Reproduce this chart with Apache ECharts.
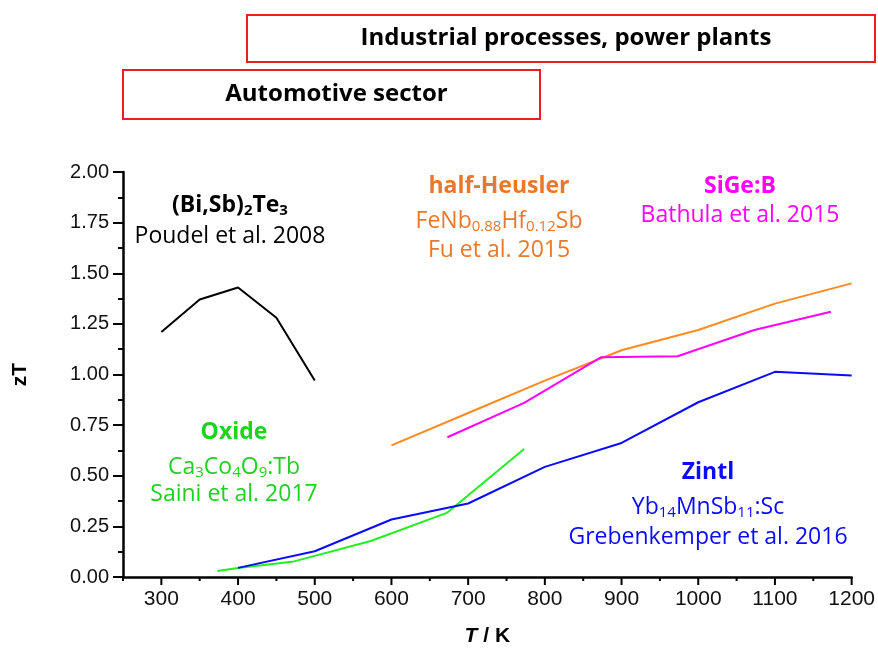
<!DOCTYPE html>
<html>

<head>
    <meta charset="UTF-8">
    <title>zT vs T</title>
    <script src="https://cdn.jsdelivr.net/npm/echarts@6.0.0/dist/echarts.min.js"></script>
    <style>
        html, body { margin: 0; padding: 0; background: #fff; }
    </style>
</head>

<body>
    <div id="main" style="width: 878px; height: 652px;"></div>
    <script>
        // data
        const bisbteT = [300, 350, 400, 450, 500];
        const bisbteZT = [1.21, 1.37, 1.43, 1.28, 0.97];

        const heuslerT = [600, 700, 800, 900, 1000, 1100, 1200];
        const heuslerZT = [0.65, 0.81, 0.97, 1.12, 1.22, 1.35, 1.45];

        const sigeT = [673, 773, 873, 973, 1073, 1173];
        const sigeZT = [0.69, 0.86, 1.085, 1.09, 1.22, 1.31];

        const oxideT = [373, 400, 473, 573, 673, 773];
        const oxideZT = [0.03, 0.045, 0.077, 0.178, 0.318, 0.632];

        const zintlT = [400, 500, 600, 700, 800, 900, 1000, 1100, 1200];
        const zintlZT = [0.045, 0.127, 0.284, 0.363, 0.544, 0.662, 0.863, 1.013, 0.995];

        const pairs = (xs, ys) => xs.map((x, i) => [x, ys[i]]);

        const textFont = '"Open Sans", Lato, sans-serif';
        const axisFont = '"Liberation Sans", Arial, sans-serif';

        // rich styles used for sub-scripted chemical formulas
        function richFor(color) {
            return {
                n: { fontFamily: textFont, fontSize: 23, color: color },
                s: { fontFamily: textFont, fontSize: 15, color: color, padding: [12, 0, 0, 0] },
                b: { fontFamily: textFont, fontSize: 23, color: color, fontWeight: 'bold' },
                bs: { fontFamily: textFont, fontSize: 15, color: color, fontWeight: 'bold', padding: [12, 0, 0, 0] }
            };
        }

        function label(x, y, text, color) {
            return {
                type: 'text',
                x: x,
                y: y,
                style: {
                    text: text,
                    rich: richFor(color),
                    fill: color,
                    align: 'center',
                    verticalAlign: 'middle'
                }
            };
        }

        function box(x, y, w, h, text) {
            return [
                {
                    type: 'rect',
                    shape: { x: x, y: y, width: w, height: h },
                    style: { fill: '#fff', stroke: '#ee1c24', lineWidth: 2 }
                },
                {
                    type: 'text',
                    x: x + w / 2 + 5,
                    y: y + h / 2,
                    style: {
                        text: text,
                        fill: '#000',
                        font: 'bold 24px ' + textFont,
                        align: 'center',
                        verticalAlign: 'middle'
                    }
                }
            ];
        }

        const orangeText = '#e8782a';
        const green = '#22d022';

        const option = {
            animation: false,
            grid: { left: 123, right: 26, top: 172, bottom: 74 },
            xAxis: {
                type: 'value',
                min: 250,
                max: 1200,
                interval: 50,
                name: '{i|T}{r| / K}',
                nameLocation: 'middle',
                nameGap: 49,
                nameTextStyle: {
                    rich: {
                        i: { fontFamily: axisFont, fontSize: 21, fontWeight: 'bold', fontStyle: 'italic', color: '#000' },
                        r: { fontFamily: axisFont, fontSize: 21, fontWeight: 'bold', color: '#000' }
                    }
                },
                splitLine: { show: false },
                axisLine: { lineStyle: { color: '#000', width: 2.5 } },
                axisTick: { show: false },
                minorTick: { show: false },
                axisLabel: {
                    color: '#111',
                    fontFamily: axisFont,
                    fontSize: 21,
                    margin: 12,
                    formatter: v => (v % 100 === 0 ? String(v) : '')
                }
            },
            yAxis: {
                type: 'value',
                min: 0,
                max: 2,
                interval: 0.25,
                name: 'zT',
                nameLocation: 'middle',
                nameRotate: 90,
                nameGap: 92,
                nameTextStyle: { fontFamily: axisFont, fontSize: 21, fontWeight: 'bold', color: '#000' },
                splitLine: { show: false },
                axisLine: { lineStyle: { color: '#000', width: 2.5 } },
                axisTick: { show: true, inside: false, length: 10, lineStyle: { color: '#000', width: 2 } },
                minorTick: { show: true, splitNumber: 2, length: 5, lineStyle: { color: '#000', width: 2 } },
                axisLabel: {
                    color: '#111',
                    fontFamily: axisFont,
                    fontSize: 20,
                    margin: 14,
                    formatter: v => v.toFixed(2)
                }
            },
            series: [
                { name: '(Bi,Sb)2Te3', type: 'line', data: pairs(bisbteT, bisbteZT), color: '#000' },
                { name: 'half-Heusler', type: 'line', data: pairs(heuslerT, heuslerZT), color: '#ff8a1e' },
                { name: 'SiGe:B', type: 'line', data: pairs(sigeT, sigeZT), color: '#ff00ff' },
                { name: 'Oxide', type: 'line', data: pairs(oxideT, oxideZT), color: '#22ee22' },
                { name: 'Zintl', type: 'line', data: pairs(zintlT, zintlZT), color: '#0a0aff' }
            ].map(s => Object.assign(s, { showSymbol: false, lineStyle: { width: 2 } })),
            graphic: [
                ...box(247, 15, 628, 47, 'Industrial processes, power plants'),
                ...box(123, 70, 417, 49, 'Automotive sector'),
                label(230, 205, '{b|(Bi,Sb)}{bs|2}{b|Te}{bs|3}', '#000'),
                label(230, 236, '{n|Poudel et al. 2008}', '#000'),
                label(499, 186, '{b|half-Heusler}', orangeText),
                label(499, 221, '{n|FeNb}{s|0.88}{n|Hf}{s|0.12}{n|Sb}', orangeText),
                label(499, 250, '{n|Fu et al. 2015}', orangeText),
                label(740, 186, '{b|SiGe:B}', '#ff00ff'),
                label(740, 215, '{n|Bathula et al. 2015}', '#ff00ff'),
                label(234, 432, '{b|Oxide}', green),
                label(234, 467, '{n|Ca}{s|3}{n|Co}{s|4}{n|O}{s|9}{n|:Tb}', green),
                label(234, 494, '{n|Saini et al. 2017}', green),
                label(708, 472, '{b|Zintl}', '#0a0aff'),
                label(708, 507, '{n|Yb}{s|14}{n|MnSb}{s|11}{n|:Sc}', '#0a0aff'),
                label(708, 537, '{n|Grebenkemper et al. 2016}', '#0a0aff')
            ]
        };

        const myChart = echarts.init(document.getElementById('main'));
        myChart.setOption(option);

        // x-axis ticks: major every 100 K, minor in between, placed through the axis scale
        const tickT = [];
        for (let t = 250; t <= 1200; t += 50) tickT.push(t);
        const y0 = myChart.convertToPixel({ yAxisIndex: 0 }, 0);
        const ticks = tickT.map(t => {
            const p = myChart.convertToPixel({ xAxisIndex: 0 }, t);
            const len = t % 100 === 0 ? 8 : 4;
            return {
                type: 'line',
                shape: { x1: p, y1: y0, x2: p, y2: y0 + len },
                style: { stroke: '#000', lineWidth: 2 }
            };
        });
        myChart.setOption({ graphic: option.graphic.concat(ticks) });

        window.addEventListener('resize', function () {
            myChart.resize();
        });
    </script>
</body>

</html>
